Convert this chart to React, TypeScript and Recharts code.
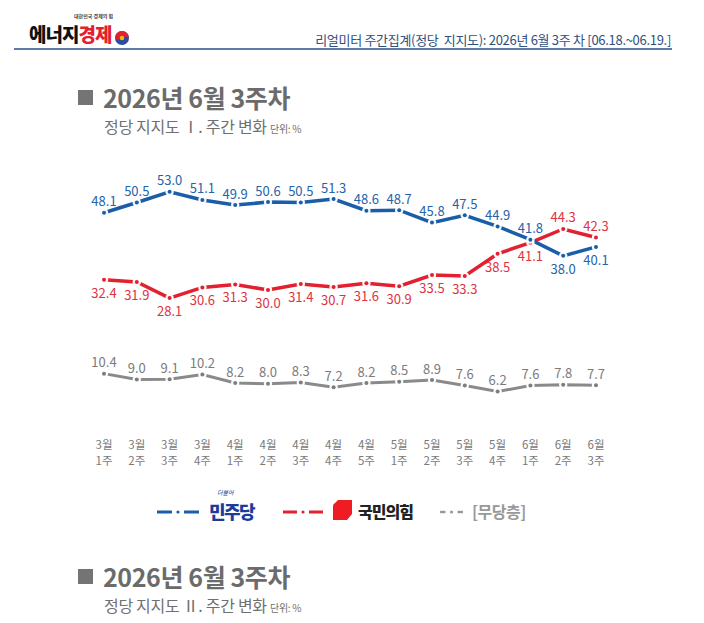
import React from 'react'
import { LineChart, Line, XAxis, YAxis, LabelList } from 'recharts'

// weekly party support, unit: %
const weeks = [
  '3월 1주', '3월 2주', '3월 3주', '3월 4주',
  '4월 1주', '4월 2주', '4월 3주', '4월 4주', '4월 5주',
  '5월 1주', '5월 2주', '5월 3주', '5월 4주',
  '6월 1주', '6월 2주', '6월 3주',
]
const democratic = [48.1, 50.5, 53.0, 51.1, 49.9, 50.6, 50.5, 51.3, 48.6, 48.7, 45.8, 47.5, 44.9, 41.8, 38.0, 40.1]
const ppp = [32.4, 31.9, 28.1, 30.6, 31.3, 30.0, 31.4, 30.7, 31.6, 30.9, 33.5, 33.3, 38.5, 41.1, 44.3, 42.3]
const independent = [10.4, 9.0, 9.1, 10.2, 8.2, 8.0, 8.3, 7.2, 8.2, 8.5, 8.9, 7.6, 6.2, 7.6, 7.8, 7.7]

const BLUE = '#1a5ea9'
const RED = '#e3202f'
const GREY = '#8a8a8a'
const FONT = '"Noto Sans CJK KR", "Noto Sans", sans-serif'

const chartData = weeks.map((week, i) => ({
  week,
  dem: democratic[i],
  ppp: ppp[i],
  ind: independent[i],
}))

const makeDot = (color: string) => (props: any) => {
  const { cx, cy, index } = props
  if (cx == null || cy == null) return <g key={`d-${index}`} />
  return (
    <g key={`d-${color}-${index}`}>
      <circle cx={cx} cy={cy} r={4.2} fill="#fff" opacity={0.95} />
      <circle cx={cx} cy={cy} r={2} fill={color} />
    </g>
  )
}

// label goes above the point unless the other big party is higher at that week
const makeLabel = (color: string, below: (i: number) => boolean) => (props: any) => {
  const { x, y, value, index } = props
  const dy = below(index) ? 18 : -6.5
  return (
    <text
      x={x}
      y={y + dy}
      textAnchor="middle"
      fill={color}
      fontSize={13}
      fontFamily={FONT}
    >
      {Number(value).toFixed(1)}
    </text>
  )
}

const WeekTick = (props: any) => {
  const { x, y, payload } = props
  const [month, week] = String(payload.value).split(' ')
  return (
    <g>
      <text x={x} y={y + 31} textAnchor="middle" fill="#7a7a7a" fontSize={11.5} fontFamily={FONT}>
        {month}
      </text>
      <text x={x} y={y + 46.5} textAnchor="middle" fill="#7a7a7a" fontSize={11.5} fontFamily={FONT}>
        {week}
      </text>
    </g>
  )
}

function Heading({ top, roman }: { top: number; roman: string }) {
  return (
    <>
      <div
        style={{
          position: 'absolute',
          left: 78,
          top,
          display: 'flex',
          alignItems: 'center',
          color: '#6b6b6b',
          fontFamily: FONT,
          fontWeight: 700,
          fontSize: 25,
          lineHeight: '26px',
          letterSpacing: -0.4,
        }}
      >
        <span style={{ width: 15, height: 15, background: '#747474', marginRight: 10 }} />
        <span>2026년 6월 3주차</span>
      </div>
      <div
        style={{
          position: 'absolute',
          left: 104,
          top: top + 32,
          color: '#707070',
          fontFamily: FONT,
          fontSize: 16,
          lineHeight: '20px',
          letterSpacing: -0.3,
          whiteSpace: 'pre',
        }}
      >
        {`정당 지지도 ${roman}. 주간 변화 `}
        <span style={{ fontSize: 10 }}>단위: %</span>
      </div>
    </>
  )
}

function LegendMark({ color, width, thick }: { color: string; width: number; thick: number }) {
  const seg = (width - 12) / 2
  return (
    <svg width={width} height={10} style={{ display: 'block' }}>
      <line x1={0} y1={5} x2={seg} y2={5} stroke={color} strokeWidth={thick} />
      <circle cx={width / 2} cy={5} r={1.6} fill={color} />
      <line x1={width - seg} y1={5} x2={width} y2={5} stroke={color} strokeWidth={thick} />
    </svg>
  )
}

export default function App() {
  return (
    <div
      style={{
        position: 'absolute',
        left: 0,
        top: 0,
        width: 704,
        height: 623,
        background: '#fff',
        overflow: 'hidden',
        fontFamily: FONT,
      }}
    >
      {/* masthead */}
      <div
        style={{
          position: 'absolute',
          left: 74,
          top: 13,
          fontSize: 5,
          lineHeight: '6px',
          color: '#444',
          fontWeight: 700,
        }}
      >
        대한민국 경제의 힘
      </div>
      <div
        style={{
          position: 'absolute',
          left: 29,
          top: 24,
          fontSize: 19,
          lineHeight: '20px',
          fontWeight: 900,
          letterSpacing: -1,
          color: '#111',
        }}
      >
        에너지<span style={{ color: '#e3202f' }}>경제</span>
      </div>
      <svg width={16} height={16} style={{ position: 'absolute', left: 114, top: 30 }}>
        <circle cx={8} cy={8} r={7} fill="#2a4e9e" />
        <path d="M1 8 A7 7 0 0 1 15 8 Q11 5 8 8 Q5 11 1 8 Z" fill="#e3202f" />
        <circle cx={8} cy={8} r={2.2} fill="#f2b705" />
      </svg>
      <div
        style={{
          position: 'absolute',
          right: 33,
          top: 31,
          fontSize: 13,
          lineHeight: '18px',
          color: '#2f4f7e',
          letterSpacing: -0.3,
          whiteSpace: 'pre',
        }}
      >
        리얼미터 주간집계(정당  지지도): 2026년 6월 3주 차 [06.18.~06.19.]
      </div>
      <div style={{ position: 'absolute', left: 14, top: 48, width: 658, height: 2, background: '#5c7ba6' }} />

      <Heading top={84} roman="Ⅰ" />

      <div style={{ position: 'absolute', left: 0, top: 0 }}>
        <LineChart
          width={704}
          height={480}
          data={chartData}
          margin={{ top: 162, right: 108, bottom: 12, left: 104 }}
        >
          <XAxis
            dataKey="week"
            scale="point"
            padding={{ left: 0, right: 0 }}
            axisLine={false}
            tickLine={false}
            tickSize={0}
            tickMargin={0}
            height={50}
            interval={0}
            tick={<WeekTick />}
          />
          <YAxis hide domain={[0, 60]} />
          <Line
            dataKey="ind"
            stroke={GREY}
            strokeWidth={3}
            dot={makeDot('#7d7d7d')}
            activeDot={false}
            isAnimationActive={false}
          >
            <LabelList dataKey="ind" content={makeLabel('#7b7b7b', () => false)} />
          </Line>
          <Line
            dataKey="ppp"
            stroke={RED}
            strokeWidth={3.5}
            dot={makeDot(RED)}
            activeDot={false}
            isAnimationActive={false}
          >
            <LabelList dataKey="ppp" content={makeLabel('#e0313f', (i) => ppp[i] < democratic[i])} />
          </Line>
          <Line
            dataKey="dem"
            stroke={BLUE}
            strokeWidth={3.5}
            dot={makeDot(BLUE)}
            activeDot={false}
            isAnimationActive={false}
          >
            <LabelList dataKey="dem" content={makeLabel('#2563aa', (i) => democratic[i] < ppp[i])} />
          </Line>
        </LineChart>
      </div>

      {/* legend */}
      <div style={{ position: 'absolute', left: 157, top: 507 }}>
        <LegendMark color={BLUE} width={42} thick={3} />
      </div>
      <div
        style={{
          position: 'absolute',
          left: 217,
          top: 490,
          fontSize: 6,
          lineHeight: '6px',
          color: '#1c3c9c',
          fontStyle: 'italic',
        }}
      >
        더불어
      </div>
      <div
        style={{
          position: 'absolute',
          left: 209,
          top: 502,
          fontSize: 18,
          lineHeight: '19px',
          fontWeight: 900,
          color: '#1c3c9c',
          letterSpacing: -1.5,
        }}
      >
        민주당
      </div>
      <div style={{ position: 'absolute', left: 283, top: 507 }}>
        <LegendMark color={RED} width={40} thick={3} />
      </div>
      <svg width={22} height={22} style={{ position: 'absolute', left: 332, top: 499 }}>
        <path d="M6 1 L20 1 L20 15 L15 21 L1 21 L1 7 Q1 5 3 4 Z" fill="#ef1c24" />
      </svg>
      <div
        style={{
          position: 'absolute',
          left: 358,
          top: 500,
          fontSize: 16,
          lineHeight: '22px',
          fontWeight: 900,
          color: '#222',
          letterSpacing: -1,
        }}
      >
        국민의힘
      </div>
      <div style={{ position: 'absolute', left: 440, top: 507 }}>
        <LegendMark color="#9a9a9a" width={23} thick={2.5} />
      </div>
      <div
        style={{
          position: 'absolute',
          left: 472,
          top: 500,
          fontSize: 16,
          lineHeight: '22px',
          fontWeight: 700,
          color: '#999',
          letterSpacing: -0.5,
        }}
      >
        [무당층]
      </div>

      <Heading top={563} roman="Ⅱ" />
    </div>
  )
}
